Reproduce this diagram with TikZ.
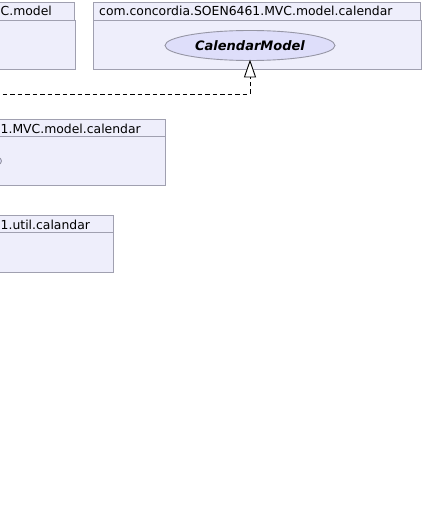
\documentclass[tikz,border=0pt]{standalone}
\usepackage{fontspec}
\setmainfont{DejaVu Sans}
\usetikzlibrary{shapes.geometric}
\definecolor{pkgfill}{RGB}{238,238,251}
\definecolor{pkgline}{RGB}{160,160,176}
\definecolor{elfill}{RGB}{222,222,250}
\definecolor{elline}{RGB}{150,150,165}
\tikzset{
  pkgbox/.style={draw=pkgline, fill=pkgfill, line width=0.9pt},
  pkgtitle/.style={inner sep=0pt, font=\fontsize{12.4}{14}\selectfont, text=black},
  rel/.style={draw=black, line width=0.9pt, dash pattern=on 4.5pt off 3pt},
}
\begin{document}
\begin{tikzpicture}[x=1pt,y=-1pt]
\useasboundingbox (0,0) rectangle (423,508);
\begin{scope}
\clip (0,0) rectangle (423,508);
% package 1 (cut)
\draw[pkgbox] (-200,2) rectangle (74,20);
\draw[pkgbox] (-200,20) rectangle (75,69);
\node[pkgtitle, anchor=base west] (t1) at (0.5,16) {C.model};
% package 2
\draw[pkgbox] (93,2) rectangle (420,20);
\draw[pkgbox] (93,20) rectangle (421,69);
\node[pkgtitle, anchor=base west] (t2) at (99,16) {com.concordia.SOEN6461.MVC.model.calendar};
\node[ellipse, draw=elline, fill=elfill, line width=0.9pt, minimum width=170pt, minimum height=30pt, inner sep=0pt, font=\fontsize{13}{15}\selectfont\bfseries\itshape] (cm) at (250,45.5) {CalendarModel};
% package 3 (cut)
\draw[pkgbox] (-200,119) rectangle (165,136.5);
\draw[pkgbox] (-200,136.5) rectangle (165.5,185);
\node[pkgtitle, anchor=base west] (t3) at (0.5,133) {1.MVC.model.calendar};
\node[circle, draw=elline, fill=elfill, line width=0.9pt, minimum size=7pt, inner sep=0pt] (c3) at (-2,161) {};
% package 4 (cut)
\draw[pkgbox] (-200,215) rectangle (113,232.5);
\draw[pkgbox] (-200,232.5) rectangle (113.5,272);
\node[pkgtitle, anchor=base west] (t4) at (0.5,229) {1.util.calandar};
% relation
\coordinate (tip) at (250,61);
\coordinate (base) at (250,77);
\coordinate (bend) at (250,94);
\coordinate (free) at (-5,94);
\draw[rel] (free) -- (bend) -- (base);
\draw[draw=black, fill=white, line width=0.9pt] (tip) -- (244.5,77) -- (255.5,77) -- cycle;
\end{scope}
\end{tikzpicture}
\end{document}
